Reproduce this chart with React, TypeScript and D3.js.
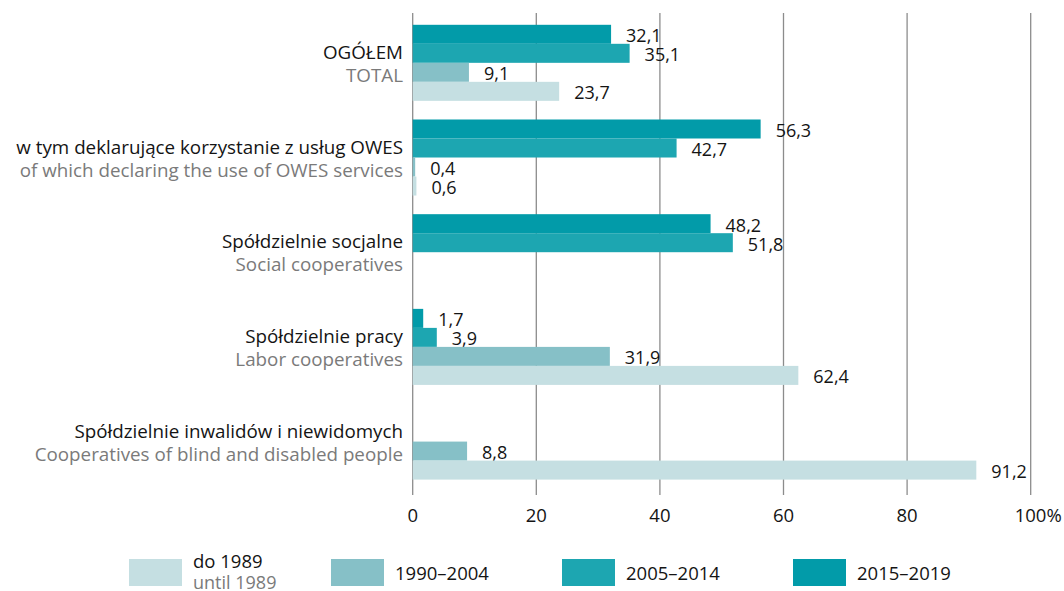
import { useEffect, useRef } from 'react';
import * as d3 from 'd3';

const categoriesPl = [
  'OGÓŁEM',
  'w tym deklarujące korzystanie z usług OWES',
  'Spółdzielnie socjalne',
  'Spółdzielnie pracy',
  'Spółdzielnie inwalidów i niewidomych',
];
const categoriesEn = [
  'TOTAL',
  'of which declaring the use of OWES services',
  'Social cooperatives',
  'Labor cooperatives',
  'Cooperatives of blind and disabled people',
];

// bar order inside a group, top to bottom
const seriesKeys = ['2015–2019', '2005–2014', '1990–2004', 'do 1989'];
const v2015 = [32.1, 56.3, 48.2, 1.7, null];
const v2005 = [35.1, 42.7, 51.8, 3.9, null];
const v1990 = [9.1, 0.4, null, 31.9, 8.8];
const v1989 = [23.7, 0.6, null, 62.4, 91.2];
const seriesValues = [v2015, v2005, v1990, v1989];
const seriesColors = ['#029ba9', '#1da6b1', '#86c0c7', '#c5dfe2'];

// legend order, left to right
const legendPl = ['do 1989', '1990–2004', '2005–2014', '2015–2019'];
const legendEn = ['until 1989', null, null, null];
const legendColors = ['#c5dfe2', '#86c0c7', '#1da6b1', '#029ba9'];

const xTicks = [0, 20, 40, 60, 80, 100];

const FONT = '"Open Sans", sans-serif';
const DARK = '#141414';
const GREY = '#7a7a7a';

export default function App() {
  const svgRef = useRef(null);

  useEffect(() => {
    const w = 1064;
    const h = 591;
    const svg = d3.select(svgRef.current).attr('width', w).attr('height', h);
    svg.selectAll('*').remove();

    const x = d3.scaleLinear().domain([0, 100]).range([412.7, 1030.7]);
    const y = d3
      .scaleBand()
      .domain(categoriesPl)
      .range([24.8, 24.8 + 4 * 94.7 + 76])
      .paddingInner(0.197)
      .paddingOuter(0);
    const yInner = d3.scaleBand().domain(seriesKeys).range([0, y.bandwidth()]);

    // grid
    svg
      .append('g')
      .selectAll('line')
      .data(xTicks)
      .join('line')
      .attr('x1', (d) => x(d))
      .attr('x2', (d) => x(d))
      .attr('y1', 13)
      .attr('y2', 495)
      .attr('stroke', '#8c8c8c')
      .attr('stroke-width', 1.3);

    // axis labels
    const xAxis = svg.append('g').attr('transform', 'translate(0, 521.5)');
    xAxis
      .selectAll('text')
      .data(xTicks)
      .join('text')
      .attr('x', (d) => (d === 100 ? x(d) - 16 : x(d)))
      .attr('text-anchor', (d) => (d === 100 ? 'start' : 'middle'))
      .attr('font-family', FONT)
      .attr('font-size', 18.5)
      .attr('fill', DARK)
      .text((d) => (d === 100 ? '100%' : String(d)));

    // bars
    const groups = svg
      .append('g')
      .selectAll('g')
      .data(categoriesPl)
      .join('g')
      .attr('transform', (d) => `translate(0, ${y(d)})`);

    seriesKeys.forEach((key, si) => {
      const vals = seriesValues[si];
      groups.each(function (_, ci) {
        const v = vals[ci];
        if (v == null) return;
        const g = d3.select(this);
        g.append('rect')
          .attr('x', x(0))
          .attr('y', yInner(key))
          .attr('width', x(v) - x(0))
          .attr('height', yInner.bandwidth())
          .attr('fill', seriesColors[si]);
        g.append('text')
          .attr('x', x(v) + 15)
          .attr('y', yInner(key) + yInner.bandwidth() - 1.5)
          .attr('font-family', FONT)
          .attr('font-size', 18)
          .attr('fill', DARK)
          .text(v.toFixed(1).replace('.', ','));
      });
    });

    // category labels
    const labels = svg
      .append('g')
      .selectAll('g')
      .data(categoriesPl)
      .join('g')
      .attr('transform', (d) => `translate(403, ${y(d) + y.bandwidth() / 2})`);
    labels
      .append('text')
      .attr('y', -4)
      .attr('text-anchor', 'end')
      .attr('font-family', FONT)
      .attr('font-size', 18.8)
      .attr('fill', DARK)
      .text((d) => d);
    labels
      .append('text')
      .attr('y', 19)
      .attr('text-anchor', 'end')
      .attr('font-family', FONT)
      .attr('font-size', 18.8)
      .attr('fill', GREY)
      .text((_, i) => categoriesEn[i]);

    // legend
    const legendX = [129, 331, 562, 793];
    const legend = svg
      .append('g')
      .selectAll('g')
      .data(legendPl)
      .join('g')
      .attr('transform', (_, i) => `translate(${legendX[i]}, 559)`);
    legend
      .append('rect')
      .attr('width', 53)
      .attr('height', 27)
      .attr('fill', (_, i) => legendColors[i]);
    legend
      .append('text')
      .attr('x', 64)
      .attr('y', (_, i) => (legendEn[i] ? 8.5 : 20.5))
      .attr('font-family', FONT)
      .attr('font-size', 18.5)
      .attr('fill', DARK)
      .text((d) => d);
    legend
      .filter((_, i) => legendEn[i] != null)
      .append('text')
      .attr('x', 64)
      .attr('y', 30)
      .attr('font-family', FONT)
      .attr('font-size', 18)
      .attr('fill', GREY)
      .text((_, i) => legendEn[i]);
  }, []);

  return (
    <div style={{ position: 'absolute', left: 0, top: 0 }}>
      <svg ref={svgRef} style={{ display: 'block' }}></svg>
    </div>
  );
}
